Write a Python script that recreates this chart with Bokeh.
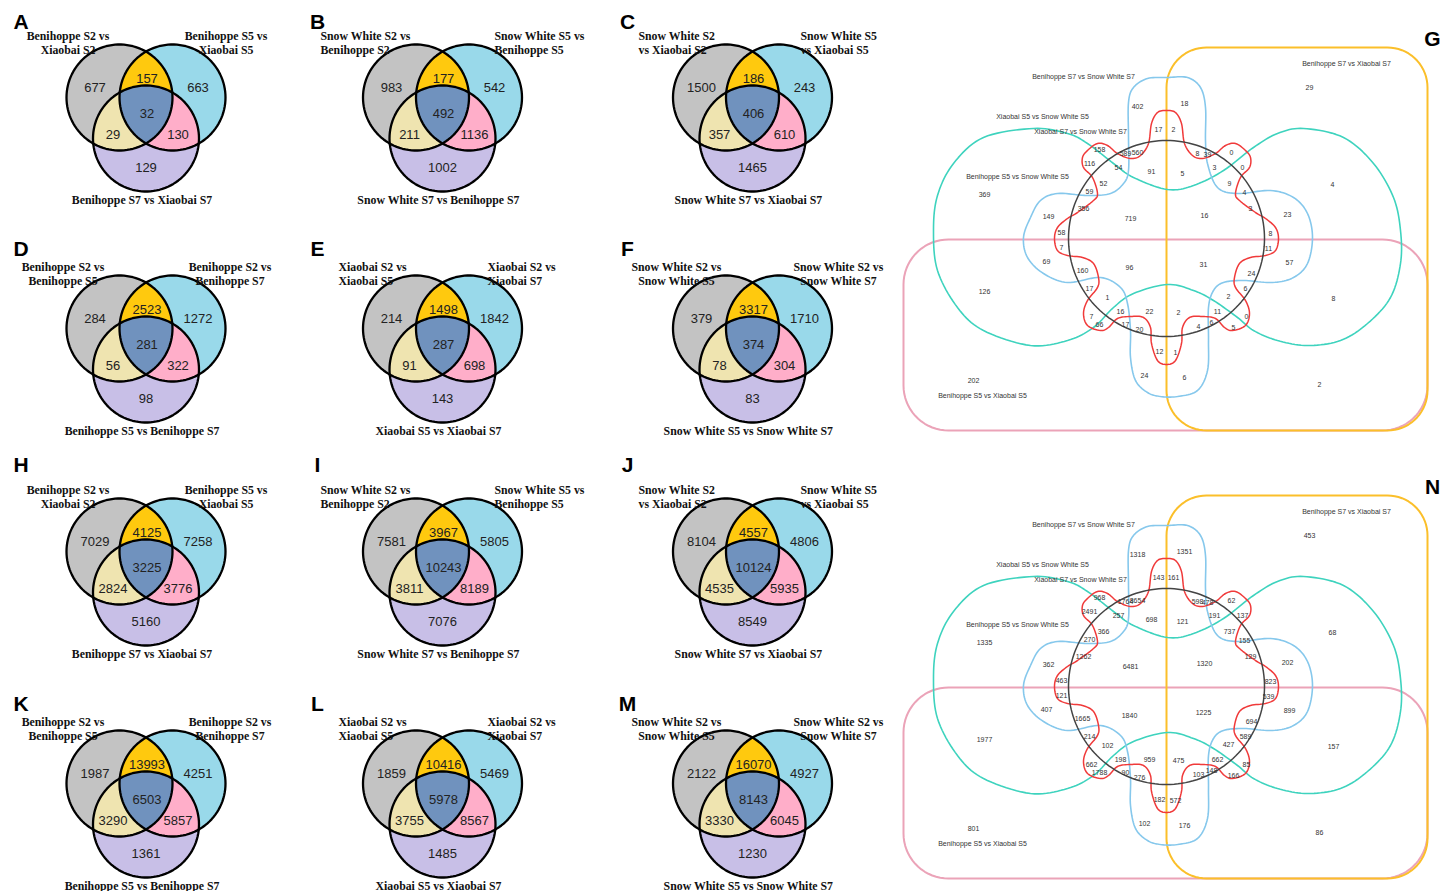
import numpy as np
from bokeh.plotting import figure
from bokeh.models import Range1d, ColumnDataSource
from bokeh.core.properties import value
from bokeh.embed import file_html
from bokeh.resources import INLINE

# ---------------- DATA ----------------
# three-set panels, region order: only L, L&R, only R, L&R&B, L&B, R&B, only B
counts_A = [677, 157, 663, 32, 29, 130, 129]
counts_B = [983, 177, 542, 492, 211, 1136, 1002]
counts_C = [1500, 186, 243, 406, 357, 610, 1465]
counts_D = [284, 2523, 1272, 281, 56, 322, 98]
counts_E = [214, 1498, 1842, 287, 91, 698, 143]
counts_F = [379, 3317, 1710, 374, 78, 304, 83]
counts_H = [7029, 4125, 7258, 3225, 2824, 3776, 5160]
counts_I = [7581, 3967, 5805, 10243, 3811, 8189, 7076]
counts_J = [8104, 4557, 4806, 10124, 4535, 5935, 8549]
counts_K = [1987, 13993, 4251, 6503, 3290, 5857, 1361]
counts_L = [1859, 10416, 5469, 5978, 3755, 8567, 1485]
counts_M = [2122, 16070, 4927, 8143, 3330, 6045, 1230]

left_AH = ["Benihoppe S2 vs", "Xiaobai S2"]
right_AH = ["Benihoppe S5 vs", "Xiaobai S5"]
bottom_AH = "Benihoppe S7 vs Xiaobai S7"
left_BI = ["Snow White S2 vs", "Benihoppe S2"]
right_BI = ["Snow White S5 vs", "Benihoppe S5"]
bottom_BI = "Snow White S7 vs Benihoppe S7"
left_CJ = ["Snow White S2", "vs Xiaobai S2"]
right_CJ = ["Snow White S5", "vs Xiaobai S5"]
bottom_CJ = "Snow White S7 vs Xiaobai S7"
left_DK = ["Benihoppe S2 vs", "Benihoppe S5"]
right_DK = ["Benihoppe S2 vs", "Benihoppe S7"]
bottom_DK = "Benihoppe S5 vs Benihoppe S7"
left_EL = ["Xiaobai S2 vs", "Xiaobai S5"]
right_EL = ["Xiaobai S2 vs", "Xiaobai S7"]
bottom_EL = "Xiaobai S5 vs Xiaobai S7"
left_FM = ["Snow White S2 vs", "Snow White S5"]
right_FM = ["Snow White S2 vs", "Snow White S7"]
bottom_FM = "Snow White S5 vs Snow White S7"

# six-set panels
six_names = ["Benihoppe S7 vs Xiaobai S7", "Benihoppe S5 vs Xiaobai S5",
             "Xiaobai S5 vs Snow White S5", "Benihoppe S7 vs Snow White S7",
             "Xiaobai S7 vs Snow White S7", "Benihoppe S5 vs Snow White S5"]
counts_G = [402, 17, 2, 158, 589, 560, 116, 54, 91, 52, 369, 59, 356, 149, 719, 58, 7,
            29, 18, 8, 39, 0, 3, 0, 5, 9, 4, 4, 3, 16, 23, 8, 11,
            69, 160, 96, 126, 17, 1, 16, 22, 2, 7, 66, 17, 20, 12, 1, 24, 202,
            31, 57, 24, 6, 2, 8, 11, 0, 4, 6, 5, 6, 2]
counts_N = [1318, 143, 161, 968, 1764, 8654, 2491, 257, 698, 366, 1335, 270, 1262, 362, 6481, 463, 121,
            453, 1351, 598, 478, 62, 191, 137, 121, 737, 155, 68, 129, 1320, 202, 823, 539,
            407, 1665, 1840, 1977, 214, 102, 198, 959, 475, 662, 1788, 90, 276, 182, 572, 102, 801,
            1225, 899, 694, 589, 427, 157, 662, 85, 103, 148, 166, 176, 86]

# ---------------- LAYOUT ----------------
col_x = [145.5, 442, 752]
row_y = [110, 341, 564, 796]
letter_y = [21, 248, 464, 703]
panels3 = [
    ("A", 0, 0, counts_A, left_AH, right_AH, bottom_AH, ("center", -78, 80)),
    ("B", 0, 1, counts_B, left_BI, right_BI, bottom_BI, ("left", -122, 52)),
    ("C", 0, 2, counts_C, left_CJ, right_CJ, bottom_CJ, ("left", -114, 48)),
    ("D", 1, 0, counts_D, left_DK, right_DK, bottom_DK, ("center", -83, 84)),
    ("E", 1, 1, counts_E, left_EL, right_EL, bottom_EL, ("left", -104, 45)),
    ("F", 1, 2, counts_F, left_FM, right_FM, bottom_FM, ("center", -76, 86)),
    ("H", 2, 0, counts_H, left_AH, right_AH, bottom_AH, ("center", -78, 80)),
    ("I", 2, 1, counts_I, left_BI, right_BI, bottom_BI, ("left", -122, 52)),
    ("J", 2, 2, counts_J, left_CJ, right_CJ, bottom_CJ, ("left", -114, 48)),
    ("K", 3, 0, counts_K, left_DK, right_DK, bottom_DK, ("center", -83, 84)),
    ("L", 3, 1, counts_L, left_EL, right_EL, bottom_EL, ("left", -104, 45)),
    ("M", 3, 2, counts_M, left_FM, right_FM, bottom_FM, ("center", -76, 86)),
]
R3 = 53
circ_off = [(-26.5, -13), (26.5, -13), (0, 28)]
num_off3 = [(-51, -23), (1, -32), (52, -23), (1, 3), (-33, 24), (32, 24), (0, 57)]

six_centers = [("G", 1166, 238, counts_G), ("N", 1166, 686, counts_N)]
six_name_pos = [(180, -175), (-184, 157), (-124, -122), (-83, -162), (-86, -107), (-149, -62)]
region_pos6 = [(-29, -132), (-8, -109), (7, -109), (-67, -89), (-41, -85), (-29, -86), (-77, -75),
               (-48, -71), (-15, -67), (-63, -55), (-182, -44), (-77, -47), (-83, -30), (-118, -22),
               (-36, -20), (-105, -6), (-105, 9),
               (143, -151), (18, -135), (31, -85), (41, -84), (65, -86), (48, -71), (76, -71),
               (16, -65), (63, -55), (78, -46), (166, -54), (84, -30), (38, -23), (121, -24),
               (104, -5), (102, 10),
               (-120, 23), (-84, 32), (-37, 29), (-182, 53), (-77, 50), (-59, 59), (-46, 73),
               (-17, 73), (12, 74), (-75, 78), (-67, 86), (-41, 86), (-27, 91), (-7, 113),
               (9, 114), (-22, 137), (-193, 142),
               (37, 26), (123, 24), (85, 35), (79, 50), (62, 58), (167, 60), (51, 73), (80, 78),
               (32, 88), (45, 84), (67, 89), (18, 139), (153, 146)]

teal_pts = [(1, -49), (-33, -61), (-53, -75), (-79, -95), (-99, -105), (-133, -110), (-183, -101),
            (-213, -75), (-229, -43), (-233, -8), (-229, 32), (-209, 69), (-183, 92), (-136, 107),
            (-99, 102), (-73, 89), (-53, 69), (-33, 55), (1, 46), (27, 52), (47, 62), (71, 79),
            (87, 92), (111, 102), (141, 107), (174, 102), (201, 85), (224, 59), (234, 25),
            (234, -8), (227, -41), (207, -75), (177, -101), (137, -110), (111, -105), (87, -91),
            (57, -68), (27, -53)]
blue_pts = [(1, -161), (21, -161), (34, -151), (39, -131), (39, -98), (41, -75), (51, -51),
            (71, -45), (104, -48), (127, -41), (141, -25), (146, -1), (141, 25), (127, 39),
            (106, 44), (77, 42), (57, 44), (47, 52), (42, 69), (42, 102), (41, 132), (31, 152),
            (11, 158), (-6, 158), (-19, 154), (-31, 142), (-36, 119), (-36, 92), (-39, 65),
            (-46, 49), (-66, 39), (-99, 44), (-123, 35), (-139, 19), (-143, -1), (-136, -21),
            (-126, -38), (-109, -45), (-79, -43), (-56, -45), (-43, -55), (-38, -68), (-38, -102),
            (-38, -136), (-33, -151), (-19, -160)]
red_left = [(0, -128), (-9, -126), (-15, -115), (-18, -95), (-26, -83), (-36, -80), (-49, -85),
            (-59, -93), (-69, -95), (-79, -88), (-84, -81), (-83, -71), (-74, -61), (-69, -45),
            (-73, -38), (-89, -26), (-99, -20), (-109, -11), (-112, 0), (-109, 12), (-99, 17),
            (-84, 19), (-73, 25), (-68, 39), (-69, 49), (-79, 62), (-83, 75), (-79, 87), (-66, 92),
            (-58, 89), (-49, 80), (-36, 78), (-23, 79), (-16, 89), (-15, 105), (-9, 122), (0, 126)]


# ---------------- helpers ----------------
def circle_poly(cx, cy, r, n=110):
    t = np.linspace(0, 2 * np.pi, n, endpoint=False)
    return np.column_stack([cx + r * np.cos(t), cy + r * np.sin(t)])


def clip(subject, clipper):
    out = [tuple(p) for p in subject]
    m = len(clipper)
    for i in range(m):
        ax, ay = clipper[i - 1]
        bx, by = clipper[i]
        ex, ey = bx - ax, by - ay
        inp = out
        out = []
        if not inp:
            break

        def inside(p):
            return ex * (p[1] - ay) - ey * (p[0] - ax) >= 0

        def inter(p, q):
            dx, dy = q[0] - p[0], q[1] - p[1]
            den = dx * ey - dy * ex
            t = ((ax - p[0]) * ey - (ay - p[1]) * ex) / den
            return (p[0] + t * dx, p[1] + t * dy)

        s = inp[-1]
        for e in inp:
            if inside(e):
                if not inside(s):
                    out.append(inter(s, e))
                out.append(e)
            elif inside(s):
                out.append(inter(s, e))
            s = e
    return np.array(out)


def catmull_closed(pts, n=10):
    P = np.asarray(pts, float)
    m = len(P)
    t = np.linspace(0, 1, n, endpoint=False)[:, None]
    segs = []
    for i in range(m):
        p0, p1, p2, p3 = P[i - 1], P[i], P[(i + 1) % m], P[(i + 2) % m]
        seg = 0.5 * (2 * p1 + (-p0 + p2) * t + (2 * p0 - 5 * p1 + 4 * p2 - p3) * t ** 2
                     + (-p0 + 3 * p1 - 3 * p2 + p3) * t ** 3)
        segs.append(seg)
    out = np.vstack(segs)
    return np.vstack([out, out[:1]])


def rrect(x0, y0, x1, y1, r, n=18):
    pts = []
    for cx, cy, a0 in [(x1 - r, y0 + r, -90), (x1 - r, y1 - r, 0), (x0 + r, y1 - r, 90), (x0 + r, y0 + r, 180)]:
        a = np.radians(np.linspace(a0, a0 + 90, n))
        pts.append(np.column_stack([cx + r * np.cos(a), cy + r * np.sin(a)]))
    out = np.vstack(pts)
    return np.vstack([out, out[:1]])


# ---------------- figure ----------------
W, H = 1453, 891
p = figure(width=W, height=H, x_range=Range1d(0, W), y_range=Range1d(H, 0),
           output_backend="svg", toolbar_location=None, min_border=0,
           x_axis_location=None, y_axis_location=None)
p.grid.visible = False
p.outline_line_color = None
p.background_fill_color = "white"

FILL = ["#C3C3C3", "#99D9EA", "#C8BFE7"]
LENS = {(0, 1): "#FFC90E", (0, 2): "#EFE4B0", (1, 2): "#FFAEC9"}
TRIPLE = "#7092BE"

fx, fy, fc = [], [], []
ox, oy = [], []
num_src = dict(x=[], y=[], t=[])
lab_src = dict(x=[], y=[], t=[], a=[])
let_src = dict(x=[], y=[], t=[])

for letter, r_i, c_i, counts, lnames, rnames, bname, (align, lx, rx) in panels3:
    cx, cy = col_x[c_i], row_y[r_i]
    polys = [circle_poly(cx + dx, cy + dy, R3) for dx, dy in circ_off]
    for k in range(3):
        fx.append(list(polys[k][:, 0])); fy.append(list(polys[k][:, 1])); fc.append(FILL[k])
    for (a, b), col in LENS.items():
        lens = clip(polys[a], polys[b])
        fx.append(list(lens[:, 0])); fy.append(list(lens[:, 1])); fc.append(col)
    tri = clip(clip(polys[0], polys[1]), polys[2])
    fx.append(list(tri[:, 0])); fy.append(list(tri[:, 1])); fc.append(TRIPLE)
    for k in range(3):
        ox.append(list(polys[k][:, 0]) + [polys[k][0, 0]])
        oy.append(list(polys[k][:, 1]) + [polys[k][0, 1]])
    for v, (dx, dy) in zip(counts, num_off3):
        num_src["x"].append(cx + dx); num_src["y"].append(cy + dy); num_src["t"].append(str(v))
    for j, line in enumerate(lnames):
        lab_src["x"].append(cx + lx); lab_src["y"].append(cy - 75 + 14 * j)
        lab_src["t"].append(line); lab_src["a"].append(align)
    for j, line in enumerate(rnames):
        lab_src["x"].append(cx + rx); lab_src["y"].append(cy - 75 + 14 * j)
        lab_src["t"].append(line); lab_src["a"].append(align)
    lab_src["x"].append(cx - 4); lab_src["y"].append(cy + 89)
    lab_src["t"].append(bname); lab_src["a"].append("center")
    let_src["x"].append(cx - 125); let_src["y"].append(letter_y[r_i]); let_src["t"].append(letter)

p.patches(fx, fy, fill_color=fc, line_color=None)
p.multi_line(ox, oy, line_color="black", line_width=2.3)

# six-set panels
s6_num = dict(x=[], y=[], t=[])
s6_lab = dict(x=[], y=[], t=[])
red_pts = red_left + [(-x, y) for (x, y) in reversed(red_left[1:-1])]
for letter, cx, cy, counts in six_centers:
    pink = rrect(cx - 263, cy + 1, cx + 261, cy + 192, 45)
    orange = rrect(cx, cy - 191, cx + 261, cy + 192, 40)
    teal = catmull_closed(teal_pts) + [cx, cy]
    blue = catmull_closed(blue_pts) + [cx, cy]
    red = catmull_closed(red_pts, 8) + [cx, cy]
    black = circle_poly(cx, cy, 98, 160)
    black = np.vstack([black, black[:1]])
    p.line(pink[:, 0], pink[:, 1], line_color="#EBA3B8", line_width=2)
    p.line(orange[:, 0], orange[:, 1], line_color="#FBBF2A", line_width=2)
    p.line(teal[:, 0], teal[:, 1], line_color="#3ED3BE", line_width=1.6)
    p.line(blue[:, 0], blue[:, 1], line_color="#86C8EC", line_width=1.6)
    p.line(red[:, 0], red[:, 1], line_color="#F03A3A", line_width=1.5)
    p.line(black[:, 0], black[:, 1], line_color="#444444", line_width=1.5)
    for v, (dx, dy) in zip(counts, region_pos6):
        s6_num["x"].append(cx + dx); s6_num["y"].append(cy + dy); s6_num["t"].append(str(v))
    for name, (dx, dy) in zip(six_names, six_name_pos):
        s6_lab["x"].append(cx + dx); s6_lab["y"].append(cy + dy); s6_lab["t"].append(name)
    let_src["x"].append(cx + 266); let_src["y"].append(cy - 200); let_src["t"].append(letter)

p.text(x="x", y="y", text="t", source=ColumnDataSource(num_src), text_align="center",
       text_baseline="middle", text_font=value("Liberation Sans"), text_font_size="13px",
       text_color="#222222")
p.text(x="x", y="y", text="t", source=ColumnDataSource(lab_src), text_align="a",
       text_baseline="middle", text_font=value("Liberation Serif"), text_font_size="11.8px",
       text_font_style="bold", text_color="#111111")
p.text(x="x", y="y", text="t", source=ColumnDataSource(let_src), text_align="center",
       text_baseline="middle", text_font=value("Liberation Sans"), text_font_size="21px",
       text_font_style="bold", text_color="black")
p.text(x="x", y="y", text="t", source=ColumnDataSource(s6_num), text_align="center",
       text_baseline="middle", text_font=value("Liberation Sans"), text_font_size="7px",
       text_color="#333333")
p.text(x="x", y="y", text="t", source=ColumnDataSource(s6_lab), text_align="center",
       text_baseline="middle", text_font=value("Liberation Sans"), text_font_size="7px",
       text_color="#333333")

open("out.html", "w").write(file_html(p, INLINE))
